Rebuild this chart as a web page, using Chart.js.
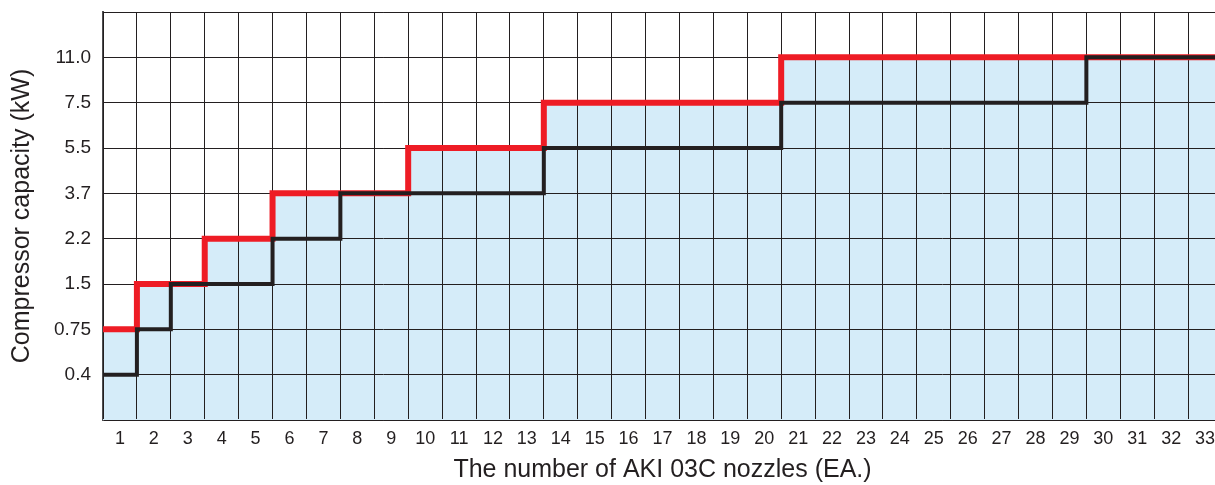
<!DOCTYPE html>
<html>
<head>
<meta charset="utf-8">
<script src="https://cdn.jsdelivr.net/npm/chart.js@4"></script>
<style>
html,body{margin:0;padding:0;background:#fff;overflow:hidden;}
#wrap{width:1215px;height:485px;overflow:hidden;position:relative;}
#box{width:1232px;height:485px;position:absolute;left:0;top:0;}
</style>
</head>
<body>
<div id="wrap"><div id="box"><canvas id="c"></canvas></div></div>
<script>
// Categories: number of nozzles
const nozzles = [1,2,3,4,5,6,7,8,9,10,11,12,13,14,15,16,17,18,19,20,21,22,23,24,25,26,27,28,29,30,31,32,33];
// Capacity levels shown on the y axis (equally spaced)
const capacityLevels = ['0.4','0.75','1.5','2.2','3.7','5.5','7.5','11.0'];
// Black step line (kW per nozzle count)
const blackKW = [0.4,0.75,1.5,1.5,1.5,2.2,2.2,3.7,3.7,3.7,3.7,3.7,3.7,5.5,5.5,5.5,5.5,5.5,5.5,5.5,7.5,7.5,7.5,7.5,7.5,7.5,7.5,7.5,7.5,11.0,11.0,11.0,11.0];
// Red step line (kW per nozzle count)
const redKW = [0.75,1.5,1.5,2.2,2.2,3.7,3.7,3.7,3.7,5.5,5.5,5.5,5.5,7.5,7.5,7.5,7.5,7.5,7.5,7.5,11.0,11.0,11.0,11.0,11.0,11.0,11.0,11.0,11.0,11.0,11.0,11.0,11.0];

const levelNums = capacityLevels.map(Number);
function toSteps(kw){
  const pts = nozzles.map((n,i)=>({x:n-0.5, y: levelNums.indexOf(kw[i])+1}));
  const last = nozzles.length-1;
  pts.push({x: nozzles[last]+0.5, y: levelNums.indexOf(kw[last])+1});
  return pts;
}
const INK = '#231f20';
const FONT = "'Liberation Sans', Arial, Helvetica, sans-serif";

const regrid = {
  id:'regrid',
  afterDatasetDraw(chart, args){
    if(args.index === 2){
      chart.scales.x.drawGrid(chart.chartArea);
      chart.scales.y.drawGrid(chart.chartArea);
    }
  }
};

new Chart(document.getElementById('c'), {
  type:'line',
  data:{
    datasets:[
      {label:'black', data: toSteps(blackKW), stepped:'before', borderColor:INK, borderWidth:4, pointRadius:0, fill:false, borderCapStyle:'butt', borderJoinStyle:'miter'},
      {label:'red', data: toSteps(redKW), stepped:'before', borderColor:'#ee1c25', borderWidth:6, pointRadius:0, fill:false, borderCapStyle:'butt', borderJoinStyle:'miter'},
      {label:'fill', data: toSteps(redKW), stepped:'before', borderWidth:0, borderColor:'rgba(0,0,0,0)', pointRadius:0, fill:'origin', backgroundColor:'#d5ecf9'}
    ]
  },
  options:{
    responsive:true, maintainAspectRatio:false, animation:false,
    layout:{padding:{top:12, right:10, left:0, bottom:0}},
    plugins:{legend:{display:false}, tooltip:{enabled:false}},
    scales:{
      x:{
        type:'linear', min:0.5, max:33.5,
        afterBuildTicks(s){
          const t=[];
          for(let v=0.5; v<=33.5; v+=0.5) t.push({value:v});
          s.ticks=t;
        },
        afterFit(s){ s.height = 65; s.paddingLeft = 0; s.paddingRight = 0; },
        grid:{
          color:(c)=> Number.isInteger(c.tick && c.tick.value) ? 'rgba(0,0,0,0)' : INK,
          lineWidth:1, drawTicks:false
        },
        border:{color:'#4d4d4f', width:2},
        ticks:{
          autoSkip:false, maxRotation:0, minRotation:0, padding:8,
          color:INK, font:{family:FONT, size:18},
          callback:(v)=> Number.isInteger(v) ? String(v) : ''
        },
        title:{display:true, text:'The number of AKI 03C nozzles (EA.)', color:INK,
          font:{family:FONT, size:25}, padding:{top:5, bottom:0}}
      },
      y:{
        type:'linear', min:0, max:9,
        afterBuildTicks(s){
          const t=[];
          for(let v=0; v<=9; v++) t.push({value:v});
          s.ticks=t;
        },
        afterFit(s){ s.width = 103; s.paddingTop = 0; s.paddingBottom = 0; },
        grid:{color:INK, lineWidth:1, drawTicks:false},
        border:{color:'#4d4d4f', width:2},
        ticks:{
          padding:12, color:INK, font:{family:FONT, size:19},
          callback:(v)=> (v>=1 && v<=capacityLevels.length) ? capacityLevels[v-1] : ''
        },
        title:{display:true, text:'Compressor capacity (kW)', color:INK,
          font:{family:FONT, size:25}, padding:{top:7, bottom:0}}
      }
    }
  },
  plugins:[regrid]
});
</script>
</body>
</html>
